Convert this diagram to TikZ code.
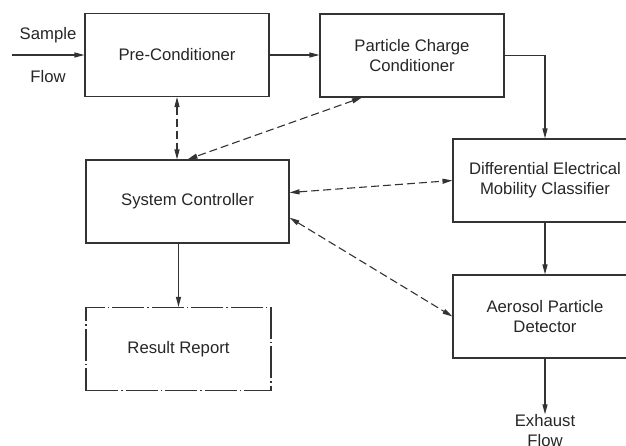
\documentclass[tikz,border=0pt]{standalone}
\usepackage{fontspec}
\setmainfont{Liberation Sans}
\usetikzlibrary{arrows.meta}
\begin{document}
\begin{tikzpicture}[x=1pt, y=-1pt, line width=1.1pt,
  box/.style={draw=black!80, minimum width=184pt, minimum height=83pt, align=center, inner sep=0pt, text=black!85, font=\fontsize{16.7}{20}\selectfont},
  txt/.style={align=center, inner sep=0pt, text=black!85, font=\fontsize{16.7}{20}\selectfont},
  flow/.style={draw=black!80, -{Triangle[length=10pt,width=5pt]}},
  link/.style={draw=black!80, dash pattern=on 8pt off 4pt, {Triangle[length=10pt,width=5pt]}-{Triangle[length=10pt,width=5pt]}}]
\useasboundingbox (0,0) rectangle (626,446);
\node[box] (pre) at (177,55){Pre-Conditioner};
\node[box] (pcc) at (412,55.5){Particle Charge\\Conditioner};
\node[box, minimum width=203pt] (ctrl) at (187.5,201.5){System Controller};
\node[box, minimum width=185pt, dash pattern=on 32pt off 3pt on 1.5pt off 3pt] (rep) at (178.5,349){Result Report};
\node[box] (demc) at (545,180.5){Differential Electrical\\Mobility Classifier};
\node[box] (apd) at (545,316.5){Aerosol Particle\\Detector};
\coordinate (sin) at (12,55);
\node[txt] (smp) at (48,35){Sample};
\node[txt] (flw) at (48,77){Flow};
\node[txt] (exh) at (545,431){Exhaust\\Flow};
\draw[flow](sin) -- (pre.west);
\draw[flow](pre.east) -- (pcc.west |- pre.east);
\draw[flow](pcc.east) -| (demc.north);
\draw[flow](demc.south) -- (apd.north);
\draw[flow](apd.south) -- (exh.north);
\draw[flow](rep.north |- ctrl.south) -- (rep.north);
\draw[link](pre.south) -- (pre.south |- ctrl.north);
\draw[link](pcc.220) -- (ctrl.north);
\draw[link](ctrl.5) -- (demc.west);
\draw[link](ctrl.-9) -- (apd.west);
\end{tikzpicture}
\end{document}
